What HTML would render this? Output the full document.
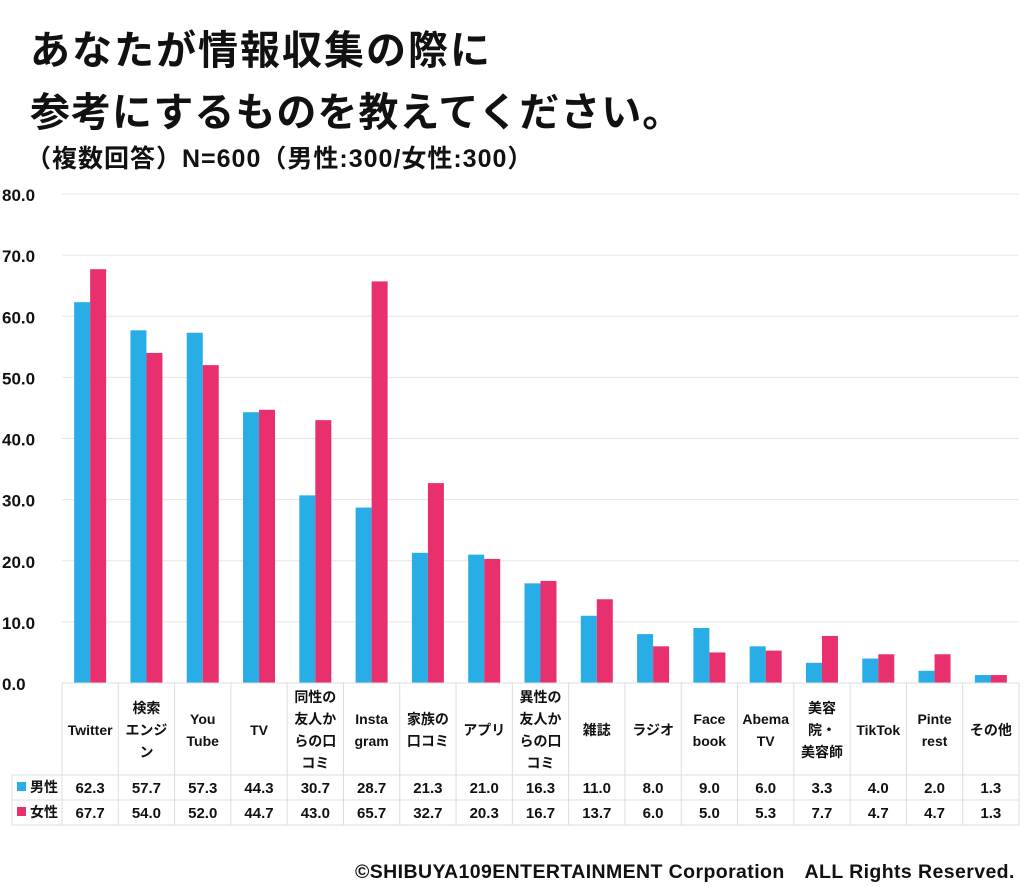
<!DOCTYPE html>
<html><head><meta charset="utf-8">
<style>
body{margin:0;background:#fff;width:1024px;height:887px;overflow:hidden;font-family:"Liberation Sans","Noto Sans CJK JP",sans-serif;}
.t{position:absolute;font-weight:bold;color:#111;white-space:nowrap}
</style></head><body>
<div class="t" style="left:30px;top:18px;font-size:40px;letter-spacing:2px;">あなたが情報収集の際に</div>
<div class="t" style="left:30px;top:80px;font-size:40px;letter-spacing:1px;">参考にするものを教えてください。</div>
<div class="t" style="left:26px;top:139px;font-size:25px;letter-spacing:1px;">（複数回答）N=600（男性:300/女性:300）</div>
<div class="t" style="left:355px;top:855px;font-size:19.5px;letter-spacing:0.4px;">©SHIBUYA109ENTERTAINMENT Corporation　ALL Rights Reserved.</div>
<svg id="chart" width="1024" height="887" style="position:absolute;left:0;top:0" xmlns="http://www.w3.org/2000/svg"></svg>
<script>
const categories=[["Twitter"],["検索","エンジ","ン"],["You","Tube"],["TV"],["同性の","友人か","らの口","コミ"],["Insta","gram"],["家族の","口コミ"],["アプリ"],["異性の","友人か","らの口","コミ"],["雑誌"],["ラジオ"],["Face","book"],["Abema","TV"],["美容","院・","美容師"],["TikTok"],["Pinte","rest"],["その他"]];
const male=[62.3,57.7,57.3,44.3,30.7,28.7,21.3,21.0,16.3,11.0,8.0,9.0,6.0,3.3,4.0,2.0,1.3];
const female=[67.7,54.0,52.0,44.7,43.0,65.7,32.7,20.3,16.7,13.7,6.0,5.0,5.3,7.7,4.7,4.7,1.3];
const yTicks=[0,10,20,30,40,50,60,70,80];
const NS="http://www.w3.org/2000/svg",svg=document.getElementById('chart');
const X0=62,X1=1019,Y0=683,YT=194,BLUE="#29ade6",PINK="#e8306e";
const colW=(X1-X0)/categories.length;
const y=v=>Y0-(v/80)*(Y0-YT);
const cx=i=>X0+colW*(i+0.5);
function mk(t,a,txt){const e=document.createElementNS(NS,t);for(const k in a)e.setAttribute(k,a[k]);if(txt!=null)e.textContent=txt;svg.appendChild(e);return e;}
yTicks.forEach(v=>{
 const g=mk('line',{x1:X0,x2:X1,y1:y(v),y2:y(v),stroke:v?"#e6e6e6":"#d0d0d0","stroke-width":1});
 
 
 const t=mk('text',{x:2,y:y(v)+7,"font-size":17,"font-weight":"bold",fill:"#111"},v.toFixed(1));
 
 
});
categories.forEach((c,i)=>{
 const b1=mk('rect',{x:cx(i)-16,y:y(male[i]),width:16,height:Y0-y(male[i]),fill:BLUE});
 
 
 const b2=mk('rect',{x:cx(i),y:y(female[i]),width:16,height:Y0-y(female[i]),fill:PINK});
 
 
 const n=c.length,top=729-(n-1)*11;
 c.forEach((ln,j)=>{
  const t=mk('text',{x:cx(i),y:top+j*22+6,"font-size":14,"font-weight":"bold","text-anchor":"middle",fill:"#111"},ln);
  
  
 });
 const m=mk('text',{x:cx(i),y:793,"font-size":15,"font-weight":"bold","text-anchor":"middle",fill:"#111"},male[i].toFixed(1));
 
 
 const f=mk('text',{x:cx(i),y:818,"font-size":15,"font-weight":"bold","text-anchor":"middle",fill:"#111"},female[i].toFixed(1));
 
 
});
const L="#dcdcdc";
[[X0,683,X1,683],[12,775,X1,775],[12,800,X1,800],[12,825,X1,825],[12,775,12,825]].forEach(a=>{
 const l=mk('line',{x1:a[0],y1:a[1],x2:a[2],y2:a[3],stroke:L});
 
 
});
for(let i=0;i<=categories.length;i++){
 const l=mk('line',{x1:X0+colW*i,y1:683,x2:X0+colW*i,y2:825,stroke:L});
 
 
}
[[BLUE,"男性",787],[PINK,"女性",812]].forEach(r=>{
 const s=mk('rect',{x:17,y:r[2]-5,width:9,height:9,fill:r[0]});
 
 
 const t=mk('text',{x:30,y:r[2]+5,"font-size":14,"font-weight":"bold",fill:"#111"},r[1]);
 
 
});
</script>
</body></html>
